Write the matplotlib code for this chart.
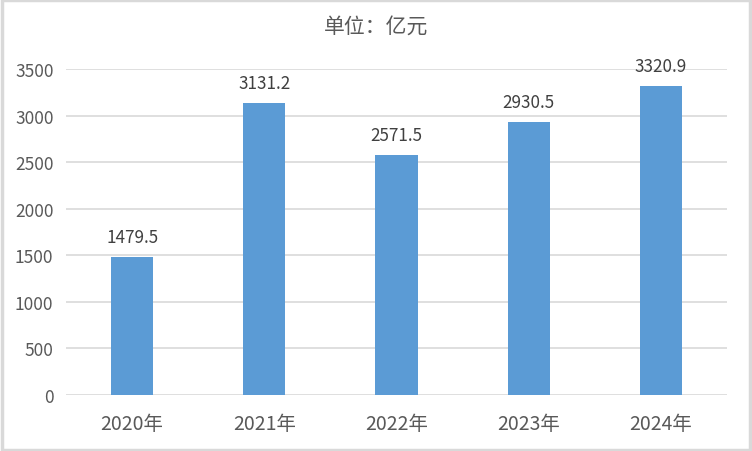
import matplotlib
matplotlib.use("Agg")
import matplotlib.pyplot as plt
from matplotlib.patches import Rectangle

plt.rcParams['font.family'] = ['Noto Sans CJK SC', 'DejaVu Sans']

categories = ['2020年', '2021年', '2022年', '2023年', '2024年']
values = [1479.5, 3131.2, 2571.5, 2930.5, 3320.9]
yticks = [0, 500, 1000, 1500, 2000, 2500, 3000, 3500]
title = '单位：亿元'

text_color = '#595959'
bar_color = '#5B9BD5'
grid_color = '#D9D9D9'

fig = plt.figure(figsize=(7.52, 4.52), dpi=100)
ax = fig.add_axes([66/752, 1-396/452, (727-66)/752, (396-70)/452])

x = list(range(len(categories)))
ax.bar(x, values, width=0.32, color=bar_color, zorder=3)
for xi, v in zip(x, values):
    ax.annotate(f'{v:.1f}', (xi, v), xytext=(0, 8), textcoords='offset points',
                ha='center', va='bottom', fontsize=12.3, color='#404040')

ax.set_xlim(-0.5, len(categories)-0.5)
ax.set_ylim(0, 3500)
ax.set_yticks(yticks)
ax.set_yticklabels([str(t) for t in yticks], fontsize=12.5, color=text_color)
ax.set_xticks(x)
ax.set_xticklabels(categories, fontsize=14, color=text_color)
ax.tick_params(axis='both', length=0)
ax.tick_params(axis='y', pad=9)
ax.tick_params(axis='x', pad=13)
ax.grid(axis='y', color=grid_color, linewidth=1.2, zorder=0)
for s in ax.spines.values():
    s.set_visible(False)

fig.text(0.5, 1-27/452, title, ha='center', va='center', fontsize=15, color=text_color)

fig.add_artist(Rectangle((0.002, 0.003), 0.995, 0.994, transform=fig.transFigure,
                         fill=False, edgecolor='#D9D9D9', linewidth=2.5))

fig.savefig('out.png', dpi=100)
